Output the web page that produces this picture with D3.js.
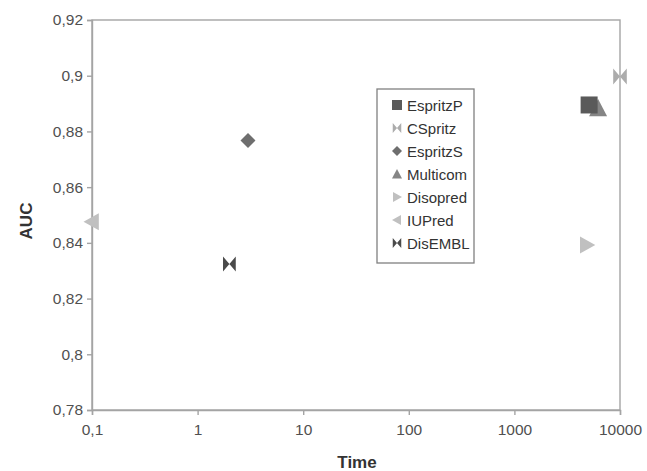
<!DOCTYPE html>
<html>
<head>
<meta charset="utf-8">
<script src="https://cdn.jsdelivr.net/npm/d3@7"></script>
<style>
  body { margin: 0; background: #fff; }
  text { font-family: "Liberation Sans", Arial, sans-serif; }
</style>
</head>
<body>
<div id="chart"></div>
<script>
// data
const methods = ["EspritzP", "CSpritz", "EspritzS", "Multicom", "Disopred", "IUPred", "DisEMBL"];
const times   = [5100, 10000, 3, 6200, 4850, 0.1, 2];
const aucs    = [0.8895, 0.8997, 0.8767, 0.8884, 0.8392, 0.8476, 0.8324];
const xTicks  = [0.1, 1, 10, 100, 1000, 10000];
const yTicks  = [0.78, 0.8, 0.82, 0.84, 0.86, 0.88, 0.9, 0.92];

const width = 647, height = 471;
const margin = {top: 20, right: 27, bottom: 61, left: 92};
const w = width - margin.left - margin.right;
const h = height - margin.top - margin.bottom;

let svg = d3.select("#chart")
    .append("svg")
    .attr("width", width)
    .attr("height", height)
    .append("g")
    .attr("transform", `translate(${margin.left}, ${margin.top})`);

let x = d3.scaleLog().domain([0.1, 10000]).range([0, w]);
let y = d3.scaleLinear().domain([0.78, 0.92]).range([h, 0]);

const comma = d => String(+d.toFixed(3)).replace(".", ",");

// frame
svg.append("rect")
    .attr("width", w).attr("height", h)
    .attr("fill", "none").attr("stroke", "#a4a4a4").attr("stroke-width", 1.4);

let xAxis = svg.append("g")
    .attr("transform", `translate(0, ${h})`)
    .call(d3.axisBottom(x).tickValues(xTicks).tickFormat(comma).tickSize(5).tickPadding(6));
let yAxis = svg.append("g")
    .call(d3.axisLeft(y).tickValues(yTicks).tickFormat(comma).tickSize(5).tickPadding(4));

[xAxis, yAxis].forEach(a => {
    a.select(".domain").attr("stroke", "#a4a4a4").attr("stroke-width", 1.4);
    a.selectAll(".tick line").attr("stroke", "#a4a4a4").attr("stroke-width", 1.4);
    a.selectAll(".tick text").attr("fill", "#505050").style("font-size", "15.5px")
        .style("font-family", "'Liberation Sans', Arial, sans-serif");
});
xAxis.selectAll(".tick text").attr("dy", "0.9em");

// axis titles
svg.append("text")
    .attr("x", w / 2 + 1).attr("y", h + 58)
    .style("text-anchor", "middle").style("font-size", "17px").style("font-weight", "bold")
    .attr("fill", "#333").text("Time");
svg.append("text")
    .attr("transform", `translate(${-60}, ${h / 2 + 6}) rotate(-90)`)
    .style("text-anchor", "middle").style("font-size", "17px").style("font-weight", "bold")
    .attr("fill", "#333").text("AUC");

// marker shapes
const colors = {
    EspritzP: "#5a5a5a", CSpritz: "#acacac", EspritzS: "#6e6e6e", Multicom: "#858585",
    Disopred: "#c0c0c0", IUPred: "#c0c0c0", DisEMBL: "#4a4a4a"
};
function shape(name, s) {
    const r = s / 2;
    switch (name) {
        case "EspritzP": return `M${-r},${-r}H${r}V${r}H${-r}Z`;
        case "EspritzS": return `M0,${-r}L${r},0L0,${r}L${-r},0Z`;
        case "Multicom": return `M0,${-r}L${r},${r * 0.9}L${-r},${r * 0.9}Z`;
        case "Disopred": return `M${-r * 0.8},${-r}L${r},0L${-r * 0.8},${r}Z`;
        case "IUPred":   return `M${r * 0.8},${-r}L${-r},0L${r * 0.8},${r}Z`;
        default:         return `M${-r * 0.85},${-r}L${r * 0.85},${r}V${-r}L${-r * 0.85},${r}Z`;
    }
}
const sizes = {EspritzP: 17, CSpritz: 16, EspritzS: 15, Multicom: 18, Disopred: 17, IUPred: 17, DisEMBL: 15};

let pts = methods.map((m, i) => ({name: m, t: times[i], auc: aucs[i]}));
// Multicom sits beneath EspritzP in the picture
let order = ["Multicom", "CSpritz", "EspritzS", "Disopred", "IUPred", "DisEMBL", "EspritzP"];
pts.sort((a, b) => order.indexOf(a.name) - order.indexOf(b.name));

svg.selectAll("path.pt").data(pts).enter()
    .append("path")
    .attr("class", "pt")
    .attr("transform", d => `translate(${x(d.t)}, ${y(d.auc)})`)
    .attr("d", d => shape(d.name, sizes[d.name]))
    .attr("fill", d => colors[d.name]);

// legend
let legend = svg.append("g").attr("transform", `translate(${377 - margin.left}, ${89 - margin.top})`);
legend.append("rect")
    .attr("width", 97).attr("height", 174)
    .attr("fill", "#fff").attr("stroke", "#808080").attr("stroke-width", 1.3);
let rows = legend.selectAll("g.row").data(methods).enter()
    .append("g").attr("class", "row")
    .attr("transform", (d, i) => `translate(0, ${16 + i * 23})`);
rows.append("path")
    .attr("transform", "translate(20, 0)")
    .attr("d", d => shape(d, 10))
    .attr("fill", d => colors[d]);
rows.append("text")
    .attr("x", 30).attr("y", 5.5)
    .style("font-size", "15px").attr("fill", "#333")
    .text(d => d);
</script>
</body>
</html>
